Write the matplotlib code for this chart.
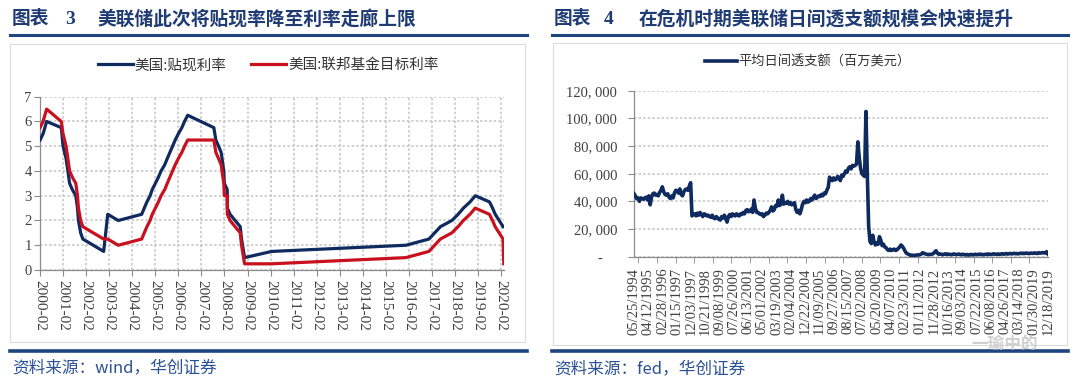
import matplotlib
matplotlib.use('Agg')
import matplotlib.pyplot as plt
from matplotlib.lines import Line2D
from matplotlib.patches import Rectangle
import numpy as np
import pandas as pd

# ---------------- data: chart 3 (policy rates at change dates) ----------------
discount_dates = ['2000-02-02', '2000-03-21', '2000-05-16', '2001-01-04', '2001-01-31', '2001-03-20',
                  '2001-04-18', '2001-05-15', '2001-06-27', '2001-08-21', '2001-09-17', '2001-10-02',
                  '2001-11-06', '2001-12-11', '2002-11-06', '2003-01-09', '2003-06-25', '2004-06-30',
                  '2004-08-10', '2004-09-21', '2004-11-10', '2004-12-14', '2005-02-02', '2005-03-22',
                  '2005-05-03', '2005-06-30', '2005-08-09', '2005-09-20', '2005-11-01', '2005-12-13',
                  '2006-01-31', '2006-03-28', '2006-05-10', '2006-06-29', '2007-08-17', '2007-09-18',
                  '2007-10-31', '2007-12-11', '2008-01-22', '2008-01-30', '2008-03-16', '2008-03-18',
                  '2008-04-30', '2008-10-08', '2008-10-29', '2008-12-16', '2010-02-19', '2015-12-17',
                  '2016-12-15', '2017-03-16', '2017-06-15', '2017-12-14', '2018-03-22', '2018-06-14',
                  '2018-09-27', '2018-12-20', '2019-08-01', '2019-09-19', '2019-10-31', '2020-03-04']
discount_rate = [5.25, 5.5, 6.0, 5.75, 5.0, 4.5,
                 4.0, 3.5, 3.25, 3.0, 2.5, 2.0,
                 1.5, 1.25, 0.75, 2.25, 2.0, 2.25,
                 2.5, 2.75, 3.0, 3.25, 3.5, 3.75,
                 4.0, 4.25, 4.5, 4.75, 5.0, 5.25,
                 5.5, 5.75, 6.0, 6.25, 5.75, 5.25,
                 5.0, 4.75, 4.0, 3.5, 3.25, 2.5,
                 2.25, 1.75, 1.25, 0.5, 0.75, 1.0,
                 1.25, 1.5, 1.75, 2.0, 2.25, 2.5,
                 2.75, 3.0, 2.75, 2.5, 2.25, 1.75]

fed_dates = ['2000-02-02', '2000-03-21', '2000-05-16', '2001-01-03', '2001-01-31', '2001-03-20',
             '2001-04-18', '2001-05-15', '2001-06-27', '2001-08-21', '2001-09-17', '2001-10-02',
             '2001-11-06', '2001-12-11', '2002-11-06', '2003-01-09', '2003-06-25', '2004-06-30',
             '2004-08-10', '2004-09-21', '2004-11-10', '2004-12-14', '2005-02-02', '2005-03-22',
             '2005-05-03', '2005-06-30', '2005-08-09', '2005-09-20', '2005-11-01', '2005-12-13',
             '2006-01-31', '2006-03-28', '2006-05-10', '2006-06-29', '2007-08-17', '2007-09-18',
             '2007-10-31', '2007-12-11', '2008-01-22', '2008-01-30', '2008-03-16', '2008-03-18',
             '2008-04-30', '2008-10-08', '2008-10-29', '2008-12-16', '2010-02-19', '2015-12-16',
             '2016-12-14', '2017-03-15', '2017-06-14', '2017-12-13', '2018-03-21', '2018-06-13',
             '2018-09-26', '2018-12-19', '2019-07-31', '2019-09-18', '2019-10-30', '2020-03-03',
             '2020-03-15']
fed_target = [5.75, 6.0, 6.5, 6.0, 5.5, 5.0,
              4.5, 4.0, 3.75, 3.5, 3.0, 2.5,
              2.0, 1.75, 1.25, 1.25, 1.0, 1.25,
              1.5, 1.75, 2.0, 2.25, 2.5, 2.75,
              3.0, 3.25, 3.5, 3.75, 4.0, 4.25,
              4.5, 4.75, 5.0, 5.25, 5.25, 4.75,
              4.5, 4.25, 3.5, 3.0, 3.0, 2.25,
              2.0, 1.5, 1.0, 0.25, 0.25, 0.5,
              0.75, 1.0, 1.25, 1.5, 1.75, 2.0,
              2.25, 2.5, 2.25, 2.0, 1.75, 1.25,
              0.25]

left_tick_labels = ['%d-02' % y for y in range(2000, 2021)]
left_series_names = ['美国:贴现利率', '美国:联邦基金目标利率']

# ---------------- data: chart 4 (daylight overdrafts, million USD, read in thousands) ----------------
overdraft_thousand = [
    45.5, 44.0, 42.0, 42.5, 40.0, 42.5, 42.0, 41.5,                        # 1994 May-Dec
    42.5, 43.0, 41.0, 44.0, 37.5, 43.0, 45.5, 46.0, 44.5, 45.0, 44.0, 46.5,  # 1995
    48.0, 50.5, 47.0, 45.0, 44.5, 45.5, 43.0, 42.0, 44.0, 42.5, 46.0, 48.0,  # 1996
    47.5, 46.0, 49.0, 45.0, 44.0, 47.0, 48.5, 49.0, 48.0, 51.0, 53.5, 29.5,  # 1997
    30.5, 31.0, 29.5, 31.5, 30.0, 32.0, 30.5, 29.0, 31.0, 30.5, 29.5, 30.0,  # 1998
    29.0, 28.5, 30.0, 28.0, 27.5, 29.0, 28.0, 27.0, 26.5, 29.0, 28.0, 30.0,  # 1999
    27.5, 25.0, 29.0, 30.5, 29.0, 31.0, 30.0, 29.5, 31.0, 30.0, 29.5, 31.0,  # 2000
    30.5, 32.0, 31.0, 33.5, 34.0, 32.5, 33.0, 34.5, 32.0, 41.0, 35.0, 32.0,  # 2001
    32.0, 31.0, 30.5, 31.0, 29.0, 30.0, 31.5, 31.0, 32.0, 33.5, 36.0, 33.0,  # 2002
    34.0, 37.0, 36.5, 41.0, 37.0, 38.0, 44.5, 38.0, 39.0, 38.5, 40.0, 38.0,  # 2003
    39.0, 37.5, 38.5, 39.0, 34.0, 32.0, 33.5, 31.0, 34.0, 38.0, 40.0, 39.0,  # 2004
    41.0, 39.5, 40.0, 42.0, 41.0, 43.0, 44.5, 42.0, 43.0, 44.0, 43.5, 45.0,  # 2005
    44.0, 46.0, 45.5, 48.0, 50.0, 57.5, 56.0, 55.0, 57.0, 55.5, 56.0, 58.0,  # 2006
    57.0, 55.0, 59.0, 58.0, 60.0, 62.0, 61.0, 64.0, 65.0, 63.5, 66.0, 65.5,  # 2007
    66.0, 67.0, 83.0, 72.0, 64.0, 60.0, 59.0, 58.0, 105.0, 60.0, 22.0, 11.0,  # 2008
    9.5, 15.5, 11.0, 8.5, 10.0, 9.0, 14.5, 12.0, 8.0, 9.0, 7.0, 6.5,          # 2009
    5.0, 4.5, 5.5, 4.5, 5.0, 5.5, 4.5, 5.0, 6.0, 7.0, 8.5, 7.5,               # 2010
    6.0, 4.0, 2.5, 2.0, 1.5, 1.0, 1.2, 0.8, 1.0, 1.1, 1.3, 1.2,               # 2011
    1.5, 1.8, 2.9, 2.5, 2.0, 1.8, 1.5, 1.7, 1.6, 1.9, 2.2, 3.5,               # 2012
    4.3, 2.5, 1.8, 2.0, 1.7, 1.5, 1.8, 2.1, 1.6, 1.9, 1.7, 1.5,               # 2013
    1.6, 2.0, 1.8, 1.5, 1.7, 1.9, 1.6, 1.4, 1.8, 1.5, 1.3, 1.6,               # 2014
    1.2, 1.4, 1.7, 1.3, 1.5, 1.8, 1.4, 1.6, 1.9, 1.5, 1.7, 1.4,               # 2015
    1.6, 1.8, 1.5, 2.0, 1.7, 1.6, 1.9, 2.1, 1.7, 1.8, 2.0, 1.6,               # 2016
    1.9, 2.2, 1.8, 2.0, 2.3, 1.9, 2.1, 2.4, 2.0, 2.2, 2.5, 2.1,               # 2017
    2.3, 2.0, 2.4, 2.6, 2.2, 2.5, 2.3, 2.7, 2.4, 2.2, 2.6, 2.5,               # 2018
    2.4, 2.8, 2.5, 2.3, 2.9, 2.6, 2.7, 3.0, 2.8, 2.6, 3.6, 2.0,               # 2019
]
overdraft_start, overdraft_end = '1994-05-25', '2019-12-18'
right_tick_labels = ['05/25/1994', '04/12/1995', '02/28/1996', '01/15/1997', '12/03/1997', '10/21/1998',
                     '09/08/1999', '07/26/2000', '06/13/2001', '05/01/2002', '03/19/2003', '02/04/2004',
                     '12/22/2004', '11/09/2005', '09/27/2006', '08/15/2007', '07/02/2008', '05/20/2009',
                     '04/07/2010', '02/23/2011', '01/11/2012', '11/28/2012', '10/16/2013', '09/03/2014',
                     '07/22/2015', '06/08/2016', '04/26/2017', '03/14/2018', '01/30/2019', '12/18/2019']
right_yticks = [0, 20000, 40000, 60000, 80000, 100000, 120000]
right_series_name = '平均日间透支额（百万美元）'

# ---------------- styling ----------------
W, H = 1080, 382
CJK = ['Noto Sans CJK SC', 'DejaVu Sans']
SERIF = ['Liberation Serif', 'DejaVu Serif']
NAVY = '#0e2a5e'
RED = '#c8101e'
TITLE = '#1f3b73'
RULE = '#1f4580'
SRC = '#2a5196'
GRID = '#c4c4c4'
SPINE = '#8c8c8c'
TICKTXT = '#404040'

def fx(x):
    return x / W

def fy(y):
    return 1 - y / H

fig = plt.figure(figsize=(10.8, 3.82), dpi=100)
fig.patch.set_facecolor('white')

# panel frames and rules
for (x0, x1, ytop, ybot) in [(10.4, 525.5, 44.3, 341.6), (552.5, 1066.6, 43.0, 345.2)]:
    fig.add_artist(Rectangle((fx(x0), fy(ybot)), fx(x1) - fx(x0), fy(ytop) - fy(ybot),
                             transform=fig.transFigure, fill=False, edgecolor='#dcdcdc', lw=0.8, zorder=0))
for (x0, x1) in [(10.4, 526.6), (552.0, 1067.7)]:
    fig.add_artist(Line2D([fx(x0), fx(x1)], [fy(34.7)] * 2, color=RULE, lw=2.2))
    fig.add_artist(Line2D([fx(x0), fx(x1)], [fy(351.2)] * 2, color=RULE, lw=2.6))

# titles
fig.text(fx(12), fy(19), '图表', fontsize=13.5, fontweight='bold', color=TITLE, family=CJK, va='center')
fig.text(fx(65), fy(19.5), '3', fontsize=14, fontweight='bold', color=TITLE, family=SERIF, va='center')
fig.text(fx(97), fy(19), '美联储此次将贴现率降至利率走廊上限', fontsize=13.5, fontweight='bold',
         color=TITLE, family=CJK, va='center')
fig.text(fx(554), fy(19), '图表', fontsize=13.5, fontweight='bold', color=TITLE, family=CJK, va='center')
fig.text(fx(604), fy(19.5), '4', fontsize=14, fontweight='bold', color=TITLE, family=SERIF, va='center')
fig.text(fx(638.5), fy(19), '在危机时期美联储日间透支额规模会快速提升', fontsize=13.5, fontweight='bold',
         color=TITLE, family=CJK, va='center')

# sources
fig.text(fx(12), fy(367.6), '资料来源：wind，华创证券', fontsize=12, color=SRC, family=CJK, va='center')
fig.text(fx(554), fy(369.0), '资料来源：fed，华创证券', fontsize=12, color=SRC, family=CJK, va='center')

# ---------------- left chart ----------------
ax1 = fig.add_axes([fx(40), fy(270), fx(504) - fx(40), fy(96.7) - fy(270)])
l1, = ax1.plot(pd.to_datetime(discount_dates), discount_rate, color=NAVY, lw=2.3, zorder=3,
               solid_joinstyle='round')
l2, = ax1.plot(pd.to_datetime(fed_dates), fed_target, color=RED, lw=2.3, zorder=4,
               solid_joinstyle='round')
left_ticks = pd.to_datetime([s + '-01' for s in left_tick_labels])
ax1.set_xlim(pd.Timestamp('2000-02-01'), pd.Timestamp('2020-03-18'))
ax1.set_ylim(0, 7)
ax1.set_xticks(left_ticks)
ax1.set_xticklabels(left_tick_labels, rotation=270, family=SERIF, fontsize=11, color=TICKTXT,
                    ha='center', va='top')
ax1.set_yticks(range(0, 8))
ax1.set_yticklabels([str(v) for v in range(0, 8)], family=SERIF, fontsize=10.5, color=TICKTXT)
ax1.tick_params(axis='x', direction='out', length=4, color=SPINE, pad=3)
ax1.tick_params(axis='y', direction='out', length=4, color=SPINE, pad=2)
ax1.grid(True, color=GRID, linestyle=(0, (1.6, 1.4)), linewidth=1.1, zorder=0)
for s in ['top', 'right']:
    ax1.spines[s].set_visible(False)
for s in ['left', 'bottom']:
    ax1.spines[s].set_color(SPINE)
    ax1.spines[s].set_linewidth(0.9)

fig.legend([l1, l2], left_series_names, loc='center', bbox_to_anchor=(fx(268), fy(65.2)), ncol=2,
           frameon=False, handlelength=2.4, handletextpad=0.15, columnspacing=1.65,
           prop={'family': CJK, 'size': 10.5}, labelcolor='#333333', borderpad=0, borderaxespad=0)

# ---------------- right chart ----------------
ax2 = fig.add_axes([fx(634), fy(256.7), fx(1048) - fx(634), fy(90.7) - fy(256.7)])
od_dates = pd.date_range(overdraft_start, overdraft_end, periods=len(overdraft_thousand))
od_values = np.array(overdraft_thousand) * 1000
l3, = ax2.plot(od_dates, od_values, color=NAVY, lw=2.6, zorder=3, solid_joinstyle='round')
ax2.set_xlim(pd.Timestamp(overdraft_start), pd.Timestamp(overdraft_end))
ax2.set_ylim(0, 120000)
ax2.set_xticks(pd.to_datetime(right_tick_labels, format='%m/%d/%Y'))
ax2.set_xticklabels(right_tick_labels, rotation=90, family=SERIF, fontsize=10.5, color=TICKTXT,
                    ha='center', va='top')
ax2.set_xticks(pd.date_range(end=overdraft_end, periods=23, freq='420D'), minor=True)
ax2.tick_params(axis='x', which='major', length=0, pad=8)
ax2.tick_params(axis='x', which='minor', direction='out', length=4, color=SPINE)
ax2.set_yticks(right_yticks)
ax2.set_yticklabels(['-    ' if v == 0 else '{:,}'.format(v).replace(',', ', ') for v in right_yticks],
                    family=SERIF, fontsize=10.5, color=TICKTXT)
ax2.tick_params(axis='y', direction='out', length=4, color=SPINE, pad=8)
ax2.grid(True, axis='y', color=GRID, linestyle=(0, (1.6, 1.4)), linewidth=1.1, zorder=0)
for s in ['top', 'right']:
    ax2.spines[s].set_visible(False)
for s in ['left', 'bottom']:
    ax2.spines[s].set_color(SPINE)
    ax2.spines[s].set_linewidth(0.9)

fig.legend([l3], [right_series_name], loc='center', bbox_to_anchor=(fx(808), fy(62)), ncol=1,
           frameon=False, handlelength=2.4, handletextpad=0.15,
           prop={'family': CJK, 'size': 9.5}, labelcolor='#333333', borderpad=0, borderaxespad=0)

# watermark (kept clear of the tick labels)
fig.text(fx(1005), fy(343.5), '一瑜中的', fontsize=12, fontweight='bold', color='#c4c4c4', alpha=0.8,
         family=CJK, ha='center', va='center', zorder=10)

fig.savefig('out.png', dpi=100, facecolor='white')
